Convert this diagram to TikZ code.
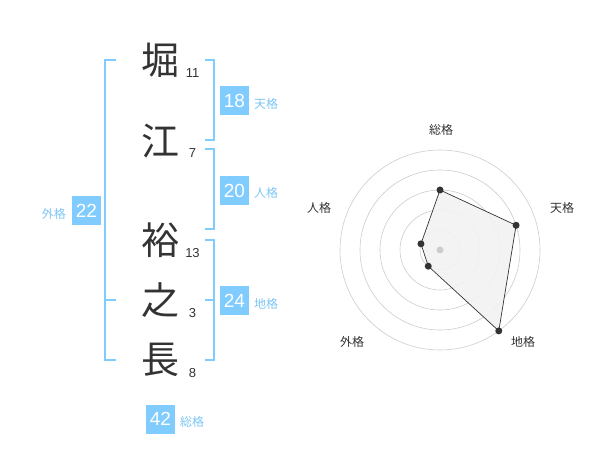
\documentclass[tikz,border=0pt]{standalone}
\usepackage{fontspec}
\usetikzlibrary{calc}
\newfontfamily\jp{Noto Sans CJK JP}
\newfontfamily\num{Liberation Sans}
\definecolor{ink}{HTML}{333333}
\definecolor{sky}{HTML}{80CCFF}
\definecolor{skytext}{HTML}{7CC6F5}
\definecolor{ringc}{HTML}{CCCCCC}
\definecolor{polyfill}{HTML}{F2F2F2}
\begin{document}
\begin{tikzpicture}[x=1pt,y=-1pt,
  kanji/.style={inner sep=0pt,font=\jp\fontsize{38}{38}\selectfont,text=ink},
  strokes/.style={inner sep=0pt,font=\num\fontsize{13}{13}\selectfont,text=ink},
  valbox/.style={fill=sky,text=white,minimum width=29pt,minimum height=29pt,inner sep=0pt,font=\num\fontsize{19}{19}\selectfont},
  vallabel/.style={inner sep=0pt,font=\jp\fontsize{12}{12}\selectfont,text=skytext},
  brk/.style={draw=sky,line width=1.6pt},
  ring/.style={draw=ringc,line width=0.6pt},
  axlabel/.style={inner sep=0pt,font=\jp\fontsize{12}{12}\selectfont,text=ink},
  vdot/.style={circle,fill=ink,inner sep=0pt,minimum size=7pt}]
\useasboundingbox (0,0) rectangle (600,470);
% characters
\node[kanji] (k1) at (160,60) {堀};
\node[kanji] (k2) at (160,141) {江};
\node[kanji] (k3) at (160,240) {裕};
\node[kanji] (k4) at (160,300) {之};
\node[kanji] (k5) at (160,360) {長};
\node[strokes] (s1) at (192.5,73) {11};
\node[strokes] (s2) at (192.5,153) {7};
\node[strokes] (s3) at (192.5,253) {13};
\node[strokes] (s4) at (192.5,313) {3};
\node[strokes] (s5) at (192.5,373) {8};
% brackets
\draw[brk] (116,60) -- (105,60) -- (105,360) -- (116,360);
\draw[brk] (105,300) -- (116,300);
\draw[brk] (205,60) -- (214,60) -- (214,140) -- (205,140);
\draw[brk] (205,149) -- (214,149) -- (214,229) -- (205,229);
\draw[brk] (205,240) -- (214,240) -- (214,360) -- (205,360);
\draw[brk] (205,300) -- (214,300);
% values
\node[valbox] (b1) at (234.5,100.5) {18};
\node[vallabel,anchor=west] (l1) at (254,104) {天格};
\node[valbox] (b2) at (234.5,190.5) {20};
\node[vallabel,anchor=west] (l2) at (254,193) {人格};
\node[valbox] (b3) at (234.5,300.5) {24};
\node[vallabel,anchor=west] (l3) at (254,304) {地格};
\node[valbox] (b4) at (86.5,210.5) {22};
\node[vallabel,anchor=east] (l4) at (66,214) {外格};
\node[valbox] (b5) at (160.5,419) {42};
\node[vallabel,anchor=west] (l5) at (180,422) {総格};
% radar
\coordinate (c) at (440,250);
\foreach \r in {20,40,60,80,100} \draw[ring] (c) circle (\r);
\coordinate (p1) at ($(c)+(-90:60)$);
\coordinate (p2) at ($(c)+(-18:80)$);
\coordinate (p3) at ($(c)+(54:100)$);
\coordinate (p4) at ($(c)+(126:20)$);
\coordinate (p5) at ($(c)+(-162:20)$);
\fill[polyfill,opacity=0.9] (p1) -- (p2) -- (p3) -- (p4) -- (p5) -- cycle;
\draw[ink,line width=0.7pt] (p1) -- (p2) -- (p3) -- (p4) -- (p5) -- cycle;
\fill[ringc] (c) circle (3.5);
\foreach \p in {p1,p2,p3,p4,p5} \node[vdot] at (\p) {};
\node[axlabel] (a1) at (441,130) {総格};
\node[axlabel] (a2) at (562,208) {天格};
\node[axlabel] (a3) at (523,342) {地格};
\node[axlabel] (a4) at (352,342) {外格};
\node[axlabel] (a5) at (319,208) {人格};
\end{tikzpicture}
\end{document}
